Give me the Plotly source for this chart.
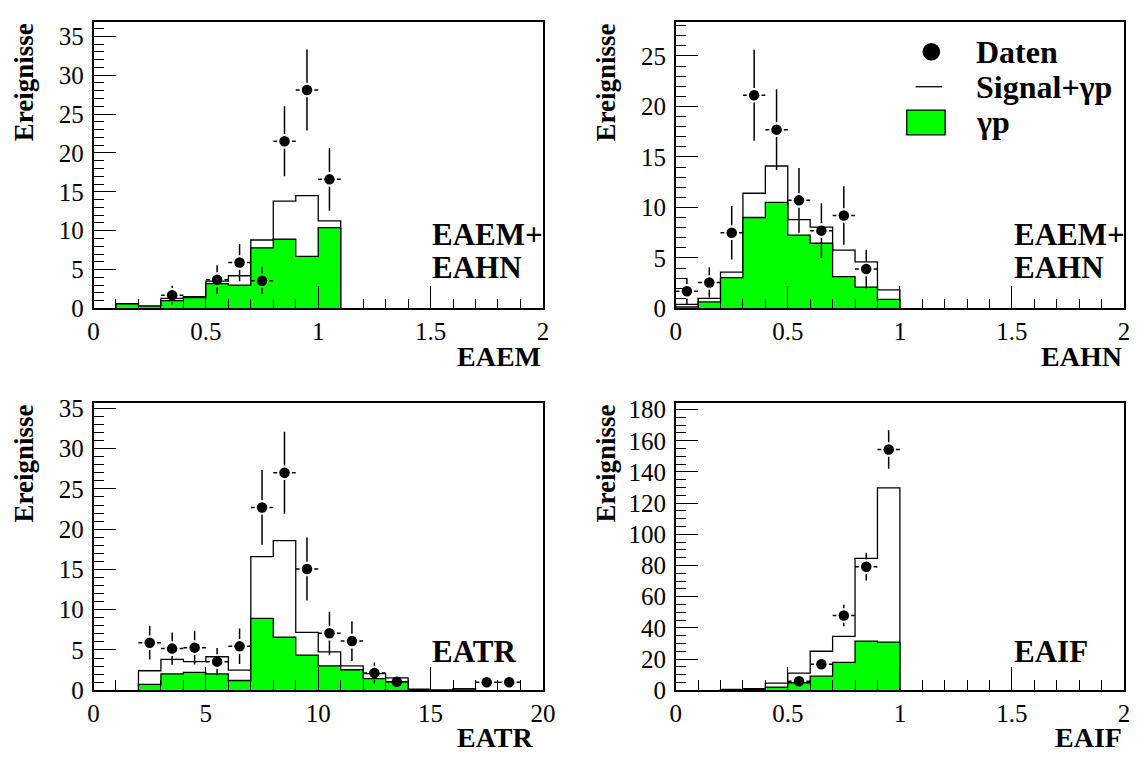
import plotly.graph_objects as go

W, H = 1142, 758
GREEN = "#00ff00"
SERIF = "Liberation Serif, Times New Roman, Times, serif"

# ---------------- data ----------------
# Panel EAEM
eaem_lo = [0.1, 0.2, 0.3, 0.4, 0.5, 0.6, 0.7, 0.8, 0.9, 1.0]
eaem_bw = 0.1
eaem_gp = [0.6, 0.3, 1.0, 1.4, 3.2, 3.0, 7.8, 8.9, 6.7, 10.4]
eaem_tot = [0.6, 0.3, 1.3, 1.5, 3.5, 4.2, 8.8, 13.8, 14.5, 11.25]
eaem_x = [0.35, 0.55, 0.65, 0.75, 0.85, 0.95, 1.05]
eaem_y = [1.7, 3.7, 5.9, 3.55, 21.5, 28.1, 16.6]
eaem_e = [1.2, 1.85, 2.4, 1.7, 4.5, 5.2, 4.05]

# Panel EAHN
eahn_lo = [0.0, 0.1, 0.2, 0.3, 0.4, 0.5, 0.6, 0.7, 0.8, 0.9]
eahn_bw = 0.1
eahn_gp = [0.15, 0.64, 3.05, 9.0, 10.5, 7.25, 6.45, 3.14, 2.1, 0.9]
eahn_tot = [0.4, 1.0, 3.6, 11.4, 14.1, 8.8, 8.05, 5.77, 4.6, 1.83]
eahn_x = [0.05, 0.15, 0.25, 0.35, 0.45, 0.55, 0.65, 0.75, 0.85]
eahn_y = [1.7, 2.57, 7.5, 21.1, 17.7, 10.7, 7.7, 9.2, 3.9]
eahn_e = [1.3, 1.5, 2.65, 4.5, 4.0, 3.2, 2.7, 2.9, 1.9]

# Panel EATR
eatr_lo = [2, 3, 4, 5, 6, 7, 8, 9, 10, 11, 12, 13, 14, 15, 16]
eatr_bw = 1.0
eatr_gp = [0.73, 2.02, 2.22, 2.02, 1.21, 8.92, 6.58, 4.36, 3.03, 2.54, 1.45, 1.05, 0.0, 0.0, 0.15]
eatr_tot = [2.42, 3.84, 3.55, 4.16, 2.5, 16.6, 18.57, 7.19, 4.77, 3.03, 2.06, 1.54, 0.12, 0.0, 0.15]
eatr_x = [2.5, 3.5, 4.5, 5.5, 6.5, 7.5, 8.5, 9.5, 10.5, 11.5, 12.5, 13.5, 17.5, 18.5]
eatr_y = [5.9, 5.17, 5.29, 3.55, 5.45, 22.7, 27.0, 15.05, 7.07, 6.1, 2.14, 1.05, 1.0, 1.0]
eatr_e = [2.1, 2.0, 2.1, 1.7, 2.2, 4.65, 5.1, 3.9, 2.66, 2.46, 1.3, 0.9, 0.8, 0.8]

# Panel EAIF
eaif_lo = [0.2, 0.3, 0.4, 0.5, 0.6, 0.7, 0.8, 0.9]
eaif_bw = 0.1
eaif_gp = [0.3, 0.5, 2.0, 4.8, 9.0, 17.9, 31.5, 30.9]
eaif_tot = [0.5, 1.0, 4.5, 11.0, 25.0, 34.6, 84.6, 129.8]
eaif_x = [0.55, 0.65, 0.75, 0.85, 0.95]
eaif_y = [5.8, 16.7, 47.9, 79.2, 154.4]
eaif_e = [2.4, 4.1, 6.9, 8.9, 12.4]

# ---------------- layout geometry (pixels) ----------------
LEFT_X = (89, 546)
RIGHT_X = (681, 1137)
TOP_Y = (15, 310)
BOT_Y = (407, 702.7)


def px_x(p):
    return p / W


def px_y(p):
    return 1 - p / H


panels = [
    dict(name="EAEM", lo=eaem_lo, bw=eaem_bw, gp=eaem_gp, tot=eaem_tot, x=eaem_x, y=eaem_y, e=eaem_e,
         xr=[0, 2], yr=[0, 36.9], xd=0.5, xm=0.1, yd=5, ym=1, px=LEFT_X, py=TOP_Y,
         label=["EAEM+", "EAHN"], tdx=0),
    dict(name="EAHN", lo=eahn_lo, bw=eahn_bw, gp=eahn_gp, tot=eahn_tot, x=eahn_x, y=eahn_y, e=eahn_e,
         xr=[0, 2], yr=[0, 28.4], xd=0.5, xm=0.1, yd=5, ym=1, px=RIGHT_X, py=TOP_Y,
         label=["EAEM+", "EAHN"], tdx=0),
    dict(name="EATR", lo=eatr_lo, bw=eatr_bw, gp=eatr_gp, tot=eatr_tot, x=eatr_x, y=eatr_y, e=eatr_e,
         xr=[0, 20], yr=[0, 35.7], xd=5, xm=1, yd=5, ym=1, px=LEFT_X, py=BOT_Y,
         label=["EATR"], tdx=-8),
    dict(name="EAIF", lo=eaif_lo, bw=eaif_bw, gp=eaif_gp, tot=eaif_tot, x=eaif_x, y=eaif_y, e=eaif_e,
         xr=[0, 2], yr=[0, 184.4], xd=0.5, xm=0.1, yd=20, ym=5, px=RIGHT_X, py=BOT_Y,
         label=["EAIF"], tdx=0),
]


def step(lo, bw, vals):
    xs = [lo[0]] + list(lo) + [lo[-1] + bw, lo[-1] + bw]
    ys = [0] + list(vals) + [vals[-1], 0]
    return xs, ys


fig = go.Figure()
layout = dict(
    width=W, height=H, margin=dict(l=0, r=0, t=0, b=0),
    paper_bgcolor="white", plot_bgcolor="white", showlegend=False,
    annotations=[], shapes=[],
)

axis_common = dict(
    showline=True, linecolor="black", linewidth=1.5, mirror=True,
    ticks="inside", ticklen=23, tickwidth=1.3, tickcolor="black",
    showgrid=False, zeroline=False, fixedrange=True, tick0=0,
    tickfont=dict(family=SERIF, size=25, color="black"),
)

for i, p in enumerate(panels):
    k = "" if i == 0 else str(i + 1)
    xa, ya = "x" + k, "y" + k
    xdom = [px_x(p["px"][0]), px_x(p["px"][1])]
    ydom = [px_y(p["py"][1]), px_y(p["py"][0])]
    layout["xaxis" + k] = dict(axis_common, domain=xdom, range=p["xr"], dtick=p["xd"], anchor=ya,
                               minor=dict(ticks="inside", ticklen=10, tickwidth=1.3, tickcolor="black",
                                          dtick=p["xm"], tick0=0))
    layout["yaxis" + k] = dict(axis_common, domain=ydom, range=p["yr"], dtick=p["yd"], anchor=xa,
                               ticklabelstandoff=3,
                               minor=dict(ticks="inside", ticklen=11, tickwidth=1.3, tickcolor="black",
                                          dtick=p["ym"], tick0=0))

    # Signal + gamma p (total) outline
    sx, sy = step(p["lo"], p["bw"], p["tot"])
    fig.add_trace(go.Scatter(x=sx, y=sy, mode="lines", line=dict(color="black", width=1.3, shape="hv"),
                             xaxis=xa, yaxis=ya, hoverinfo="skip"))
    # gamma p filled
    gx, gy = step(p["lo"], p["bw"], p["gp"])
    fig.add_trace(go.Scatter(x=gx, y=gy, mode="lines", fill="tozeroy", fillcolor=GREEN,
                             line=dict(color="black", width=1.3, shape="hv"),
                             xaxis=xa, yaxis=ya, hoverinfo="skip"))

    # error bars with a gap around the marker (as in ROOT)
    ppx = (p["px"][1] - p["px"][0]) / (p["xr"][1] - p["xr"][0])
    ppy = (p["py"][1] - p["py"][0]) / (p["yr"][1] - p["yr"][0])
    gap = 7.5
    gxu, gyu = gap / ppx, gap / ppy
    hw = p["bw"] / 2
    ex, ey = [], []
    for xv, yv, ev in zip(p["x"], p["y"], p["e"]):
        if ev > gyu:
            ex += [xv, xv, None, xv, xv, None]
            ey += [yv - ev, yv - gyu, None, yv + gyu, yv + ev, None]
        if hw > gxu:
            ex += [xv - hw, xv - gxu, None, xv + gxu, xv + hw, None]
            ey += [yv, yv, None, yv, yv, None]
    fig.add_trace(go.Scatter(x=ex, y=ey, mode="lines", line=dict(color="black", width=1.5),
                             xaxis=xa, yaxis=ya, hoverinfo="skip", connectgaps=False))
    fig.add_trace(go.Scatter(x=p["x"], y=p["y"], mode="markers",
                             marker=dict(symbol="circle", size=10.5, color="black"),
                             xaxis=xa, yaxis=ya))

    # axis titles
    layout["annotations"].append(dict(
        text="<b>%s</b>" % p["name"], xref="paper", yref="paper",
        x=px_x(p["px"][1] + p["tdx"]), y=px_y(p["py"][1] + 49), xanchor="right", yanchor="middle",
        showarrow=False, font=dict(family=SERIF, size=28, color="black")))
    layout["annotations"].append(dict(
        text="<b>Ereignisse</b>", xref="paper", yref="paper", textangle=-90,
        x=px_x(p["px"][0] - 71), y=px_y(p["py"][0]), xanchor="center", yanchor="top",
        showarrow=False, font=dict(family=SERIF, size=27, color="black")))
    # panel label
    for j, t in enumerate(p["label"]):
        cy = p["py"][1] - 76 + 34 * j if len(p["label"]) == 2 else p["py"][1] - 40
        layout["annotations"].append(dict(
            text="<b>%s</b>" % t, xref="paper", yref="paper",
            x=px_x(p["px"][0] + 342), y=px_y(cy), xanchor="left", yanchor="middle",
            showarrow=False, font=dict(family=SERIF, size=31, color="black")))

# legend (top-right panel)
leg_items = ["Daten", "Signal+γp", "γp"]
leg_y = [46, 82, 118]
for t, yy in zip(leg_items, leg_y):
    layout["annotations"].append(dict(
        text="<b>%s</b>" % t, xref="paper", yref="paper", x=px_x(984), y=px_y(yy),
        xanchor="left", yanchor="middle", showarrow=False,
        font=dict(family=SERIF, size=32, color="black")))
layout["shapes"] += [
    dict(type="circle", xref="paper", yref="paper", x0=px_x(932), x1=px_x(950), y0=px_y(55), y1=px_y(37),
         fillcolor="black", line=dict(color="black", width=0)),
    dict(type="line", xref="paper", yref="paper", x0=px_x(925), x1=px_x(952), y0=px_y(82), y1=px_y(82),
         line=dict(color="black", width=1.3)),
    dict(type="rect", xref="paper", yref="paper", x0=px_x(916), x1=px_x(955), y0=px_y(131.5), y1=px_y(106),
         fillcolor=GREEN, line=dict(color="black", width=1.3)),
]

fig.update_layout(**layout)
fig.write_html("out.html", config={"displayModeBar": False},
               post_script="document.body.style.margin='0';document.body.style.overflow='hidden';")
